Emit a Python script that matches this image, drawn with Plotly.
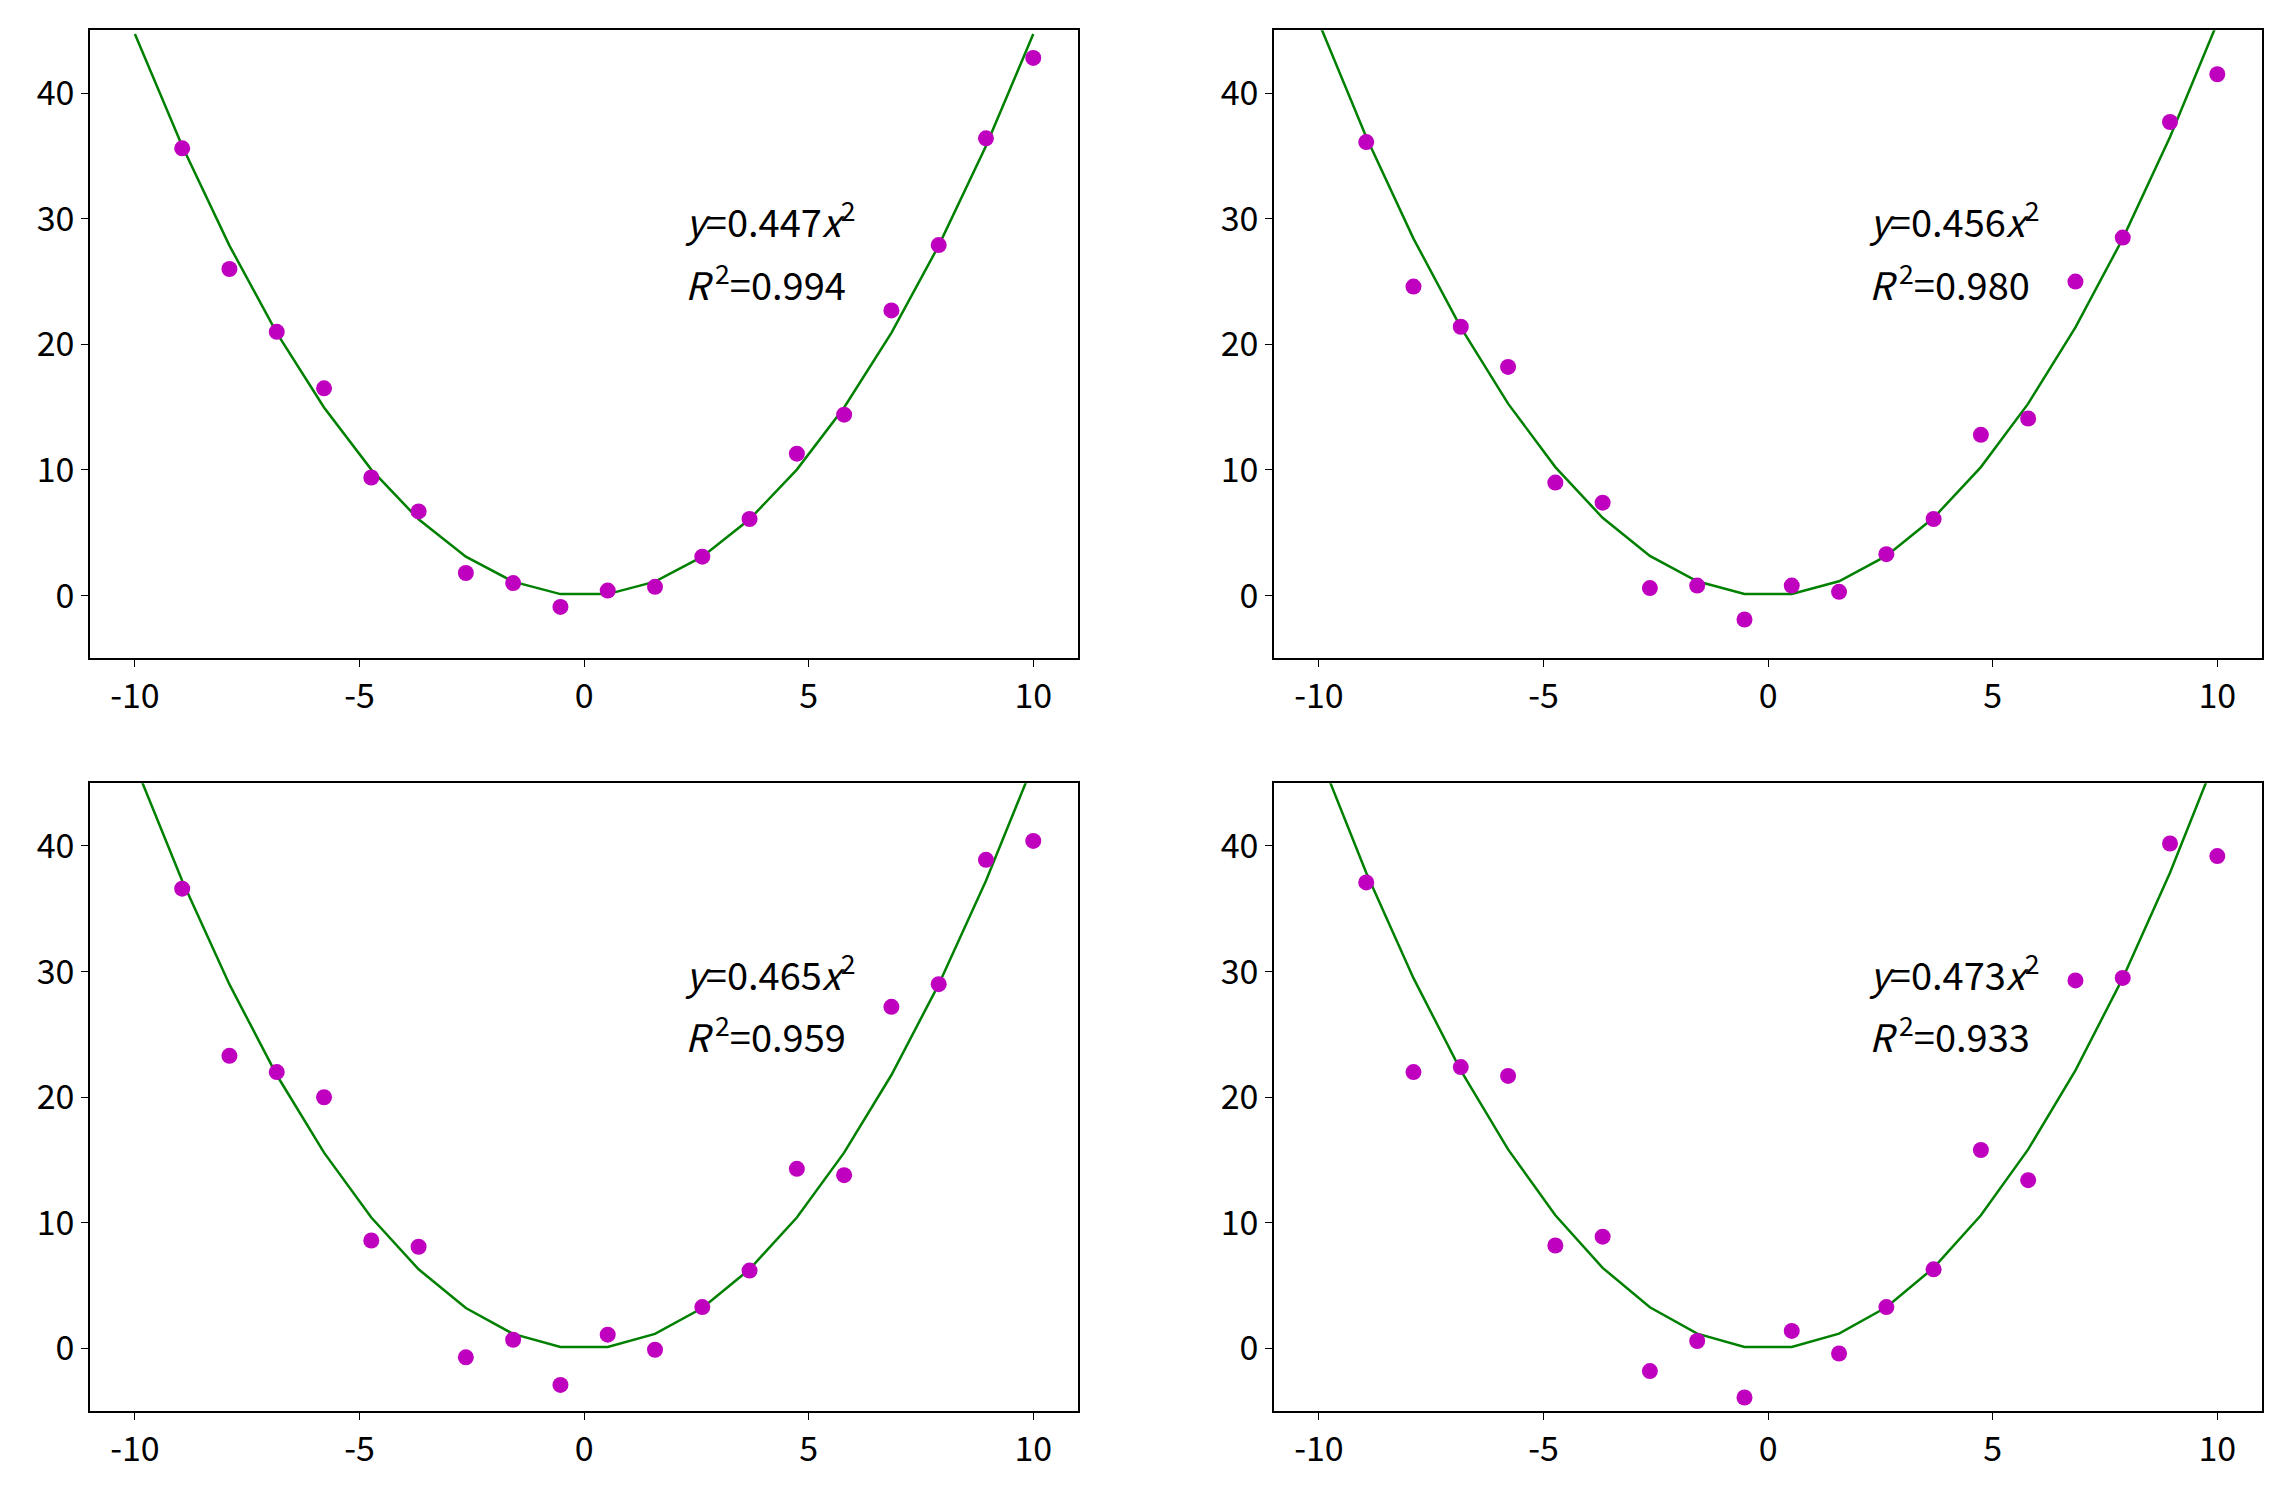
# ── data ──────────────────────────────────────
import plotly.graph_objects as go

x_vals = [-10.0, -8.947, -7.895, -6.842, -5.789, -4.737, -3.684, -2.632, -1.579, -0.526,
          0.526, 1.579, 2.632, 3.684, 4.737, 5.789, 6.842, 7.895, 8.947, 10.0]

y_obs_1 = [47.0, 35.6, 26.0, 21.0, 16.5, 9.4, 6.7, 1.8, 1.0, -0.9,
           0.4, 0.7, 3.1, 6.1, 11.3, 14.4, 22.7, 27.9, 36.4, 42.8]
y_obs_2 = [47.0, 36.1, 24.6, 21.4, 18.2, 9.0, 7.4, 0.6, 0.8, -1.9,
           0.8, 0.3, 3.3, 6.1, 12.8, 14.1, 25.0, 28.5, 37.7, 41.5]
y_obs_3 = [47.0, 36.6, 23.3, 22.0, 20.0, 8.6, 8.1, -0.7, 0.7, -2.9,
           1.1, -0.1, 3.3, 6.2, 14.3, 13.8, 27.2, 29.0, 38.9, 40.4]
y_obs_4 = [47.0, 37.1, 22.0, 22.4, 21.7, 8.2, 8.9, -1.8, 0.6, -3.9,
           1.4, -0.4, 3.3, 6.3, 15.8, 13.4, 29.3, 29.5, 40.2, 39.2]

# fitted curves y = a*x^2, values at x_vals
y_fit_1 = [44.70, 35.79, 27.86, 20.92, 14.98, 10.03, 6.07, 3.10, 1.11, 0.12,
           0.12, 1.11, 3.10, 6.07, 10.03, 14.98, 20.92, 27.86, 35.79, 44.70]
y_fit_2 = [45.60, 36.51, 28.42, 21.35, 15.28, 10.23, 6.19, 3.16, 1.14, 0.13,
           0.13, 1.14, 3.16, 6.19, 10.23, 15.28, 21.35, 28.42, 36.51, 45.60]
y_fit_3 = [46.50, 37.23, 28.98, 21.77, 15.59, 10.43, 6.31, 3.22, 1.16, 0.13,
           0.13, 1.16, 3.22, 6.31, 10.43, 15.59, 21.77, 28.98, 37.23, 46.50]
y_fit_4 = [47.30, 37.87, 29.48, 22.14, 15.85, 10.61, 6.42, 3.28, 1.18, 0.13,
           0.13, 1.18, 3.28, 6.42, 10.61, 15.85, 22.14, 29.48, 37.87, 47.30]

x_ticks = [-10, -5, 0, 5, 10]
x_tick_text = ["-10", "-5", "0", "5", "10"]
y_ticks = [0, 10, 20, 30, 40]

coef_labels = ["0.447", "0.456", "0.465", "0.473"]
r2_labels = ["0.994", "0.980", "0.959", "0.933"]

# ── figure ────────────────────────────────────
FONT = "Noto Sans CJK JP"
x_domains = [[0.036, 0.470], [0.556, 0.990], [0.036, 0.470], [0.556, 0.990]]
y_domains = [[0.562, 0.985], [0.562, 0.985], [0.055, 0.478], [0.055, 0.478]]

fig = go.Figure()
obs = [y_obs_1, y_obs_2, y_obs_3, y_obs_4]
fits = [y_fit_1, y_fit_2, y_fit_3, y_fit_4]

layout = {}
annotations = []
for i in range(4):
    n = "" if i == 0 else str(i + 1)
    xa, ya = "x" + n, "y" + n
    fig.add_trace(go.Scatter(x=x_vals, y=fits[i], mode="lines",
                             line=dict(color="#008000", width=2.5),
                             xaxis=xa, yaxis=ya, showlegend=False))
    fig.add_trace(go.Scatter(x=x_vals, y=obs[i], mode="markers",
                             marker=dict(color="#bf00bf", size=16),
                             xaxis=xa, yaxis=ya, showlegend=False))
    axis_common = dict(showgrid=False, zeroline=False, showline=True, mirror=True,
                       linecolor="black", linewidth=1.5, ticks="outside",
                       ticklen=7, tickcolor="black",
                       tickfont=dict(family=FONT, size=34, color="black"))
    layout["xaxis" + n] = dict(domain=x_domains[i], range=[-11, 11],
                               tickvals=x_ticks, ticktext=x_tick_text, anchor=ya, **axis_common)
    layout["yaxis" + n] = dict(domain=y_domains[i], range=[-5, 45],
                               tickvals=y_ticks, anchor=xa, **axis_common)
    annotations.append(dict(x=2.2, y=30, xref=xa, yref=ya, xanchor="left", showarrow=False,
                            text=f"<i>y</i>={coef_labels[i]}<i>x</i><sup>2</sup>",
                            font=dict(family=FONT, size=38, color="black")))
    annotations.append(dict(x=2.2, y=25, xref=xa, yref=ya, xanchor="left", showarrow=False,
                            text=f"<i>R</i><sup> 2</sup>={r2_labels[i]}",
                            font=dict(family=FONT, size=38, color="black")))

fig.update_layout(**layout, annotations=annotations,
                  width=2277, height=1485, margin=dict(l=0, r=0, t=0, b=0),
                  plot_bgcolor="white", paper_bgcolor="white")
fig.write_html("out.html")
